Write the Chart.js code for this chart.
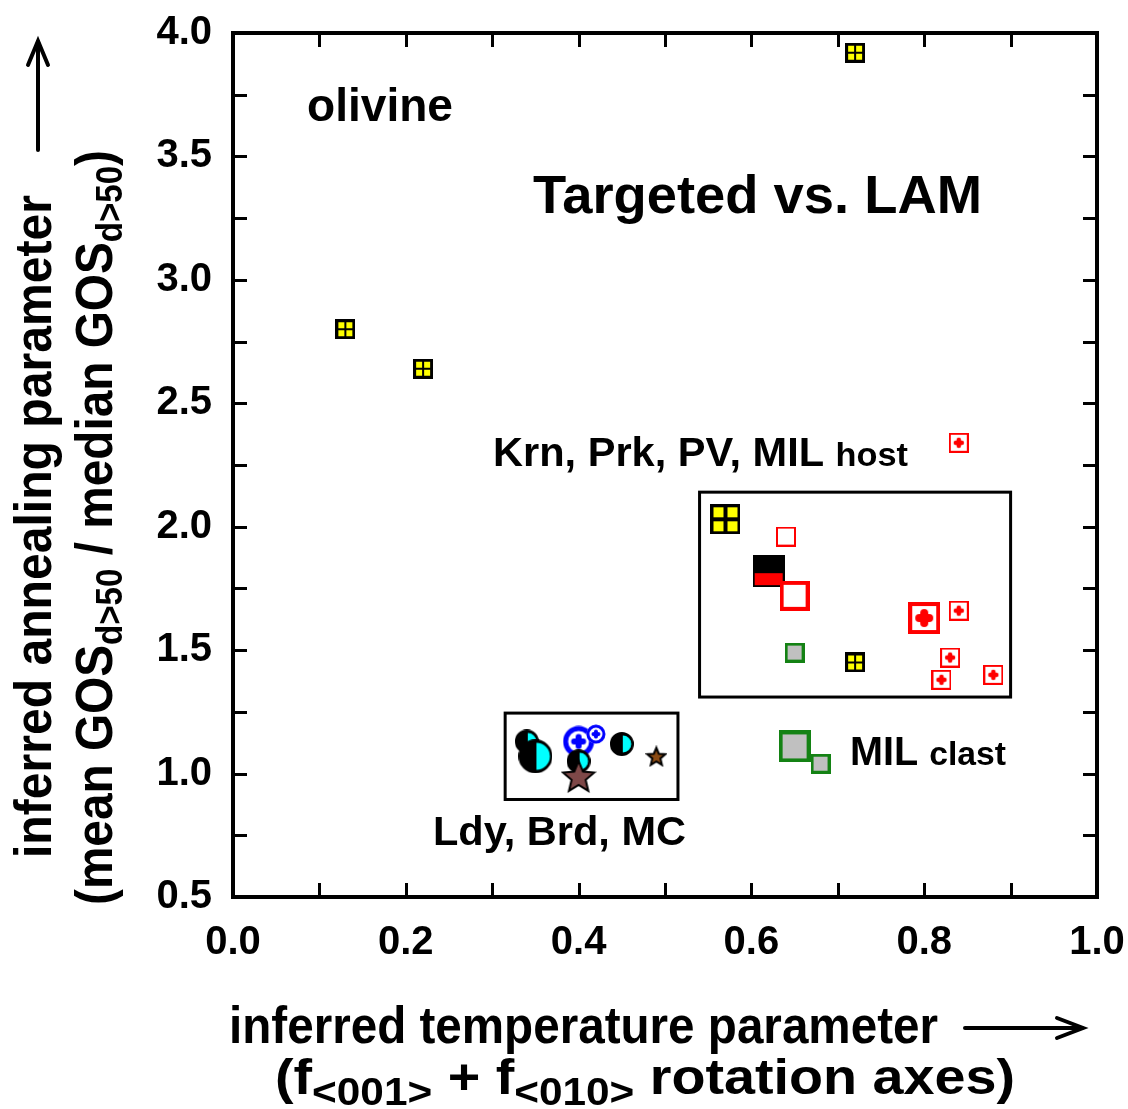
<!DOCTYPE html>
<html>
<head>
<meta charset="utf-8">
<title>olivine: targeted vs. LAM</title>
<script src="https://cdn.jsdelivr.net/npm/chart.js@4.4.1/dist/chart.umd.min.js"></script>
<style>
  html, body { margin: 0; padding: 0; background: #fff; }
  #wrap { position: relative; width: 1128px; height: 1109px; }
</style>
</head>
<body>
<div id="wrap"><canvas id="chart"></canvas></div>
<script>
// Axis ticks
const xLabelValues = [0.0, 0.2, 0.4, 0.6, 0.8, 1.0];
const xTickValues = [0.0, 0.1, 0.2, 0.3, 0.4, 0.5, 0.6, 0.7, 0.8, 0.9, 1.0];
const yLabelValues = [0.5, 1.0, 1.5, 2.0, 2.5, 3.0, 3.5, 4.0];
const yTickValues = [0.5, 0.75, 1.0, 1.25, 1.5, 1.75, 2.0, 2.25, 2.5, 2.75, 3.0, 3.25, 3.5, 3.75, 4.0];

// Krn, Prk, PV, MIL host samples
const yellowSmallX = [0.13, 0.22, 0.72, 0.72];
const yellowSmallY = [2.80, 2.64, 3.92, 1.45];
const yellowLargeX = [0.57];
const yellowLargeY = [2.03];
const redPlusSmallX = [0.84, 0.84, 0.83, 0.82, 0.88];
const redPlusSmallY = [2.34, 1.66, 1.47, 1.38, 1.40];
const redPlusLargeX = [0.80];
const redPlusLargeY = [1.63];
const redOpenSmallX = [0.64];
const redOpenSmallY = [1.96];
const redOpenLargeX = [0.65];
const redOpenLargeY = [1.72];
const blackRedX = [0.62];
const blackRedY = [1.82];

// MIL clast
const greySmallX = [0.65, 0.68];
const greySmallY = [1.49, 1.04];
const greyLargeX = [0.65];
const greyLargeY = [1.11];

// Ldy, Brd, MC
const halfBackX = [0.34];
const halfBackY = [1.13];
const halfLargeX = [0.35];
const halfLargeY = [1.07];
const ringLargeX = [0.40];
const ringLargeY = [1.13];
const ringSmallX = [0.42];
const ringSmallY = [1.16];
const halfFrontX = [0.45, 0.40];
const halfFrontY = [1.12, 1.05];
const starLargeX = [0.40];
const starLargeY = [0.99];
const starSmallX = [0.49];
const starSmallY = [1.07];

// Group boxes (data units)
const hostBoxX = [0.54, 0.90];
const hostBoxY = [1.31, 2.14];
const lowBoxX = [0.315, 0.515];
const lowBoxY = [0.895, 1.245];

const FONT = '"Liberation Sans", Arial, sans-serif';

// ---- marker images ----
function marker(s, draw) {
    const c = document.createElement('canvas');
    c.width = s;
    c.height = s;
    draw(c.getContext('2d'), s);
    return c;
}

function gridSquare(s, gap) {
    return marker(s, g => {
        g.fillStyle = '#000';
        g.fillRect(0, 0, s, s);
        const b = 3;
        const cell = (s - 2 * b - gap) / 2;
        g.fillStyle = '#ffff00';
        [b, b + cell + gap].forEach(cx => {
            [b, b + cell + gap].forEach(cy => g.fillRect(cx, cy, cell, cell));
        });
    });
}

function plusSquare(s, lw, arm, thick) {
    return marker(s, g => {
        g.fillStyle = '#fff';
        g.fillRect(0, 0, s, s);
        g.strokeStyle = '#ff0000';
        g.lineWidth = lw;
        g.strokeRect(lw / 2, lw / 2, s - lw, s - lw);
        const c = s / 2;
        g.lineCap = 'round';
        g.lineWidth = thick;
        g.beginPath();
        g.moveTo(c - arm, c); g.lineTo(c + arm, c);
        g.moveTo(c, c - arm); g.lineTo(c, c + arm);
        g.stroke();
    });
}

function openSquare(s, lw) {
    return marker(s, g => {
        g.fillStyle = '#fff';
        g.fillRect(0, 0, s, s);
        g.strokeStyle = '#ff0000';
        g.lineWidth = lw;
        g.strokeRect(lw / 2, lw / 2, s - lw, s - lw);
    });
}

function halfSquare(s) {
    return marker(s, g => {
        g.fillStyle = '#000';
        g.fillRect(0, 0, s, s);
        g.fillStyle = '#ff0000';
        g.fillRect(2, Math.round(s * 0.57), s - 4, s - 2 - Math.round(s * 0.57));
    });
}

function greySquare(s, lw) {
    return marker(s, g => {
        g.fillStyle = '#c0c0c0';
        g.fillRect(0, 0, s, s);
        g.strokeStyle = '#148214';
        g.lineWidth = lw;
        g.strokeRect(lw / 2, lw / 2, s - lw, s - lw);
    });
}

function halfCircle(d) {
    return marker(d, g => {
        const c = d / 2, r = d / 2 - 1;
        g.fillStyle = '#000';
        g.beginPath(); g.arc(c, c, r, 0, Math.PI * 2); g.fill();
        g.fillStyle = '#00ffff';
        g.beginPath(); g.arc(c + 1, c, r - 2.5, -Math.PI / 2, Math.PI / 2); g.closePath(); g.fill();
        g.strokeStyle = '#000';
        g.lineWidth = 2;
        g.beginPath(); g.arc(c, c, r, 0, Math.PI * 2); g.stroke();
    });
}

function ringPlus(d, t, arm, thick) {
    return marker(d, g => {
        const c = d / 2;
        g.fillStyle = '#fff';
        g.beginPath(); g.arc(c, c, c - 0.5, 0, Math.PI * 2); g.fill();
        g.strokeStyle = '#0000ff';
        g.lineWidth = t;
        g.beginPath(); g.arc(c, c, c - t / 2 - 0.5, 0, Math.PI * 2); g.stroke();
        g.lineCap = 'round';
        g.lineWidth = thick;
        g.beginPath();
        g.moveTo(c - arm, c); g.lineTo(c + arm, c);
        g.moveTo(c, c - arm); g.lineTo(c, c + arm);
        g.stroke();
    });
}

function star(d, fill) {
    return marker(d, g => {
        const R = d / 2 - 1.5, r = R * 0.45;
        const cx = d / 2, cy = d / 2 + R * 0.095;
        g.beginPath();
        for (let i = 0; i < 10; i++) {
            const a = -Math.PI / 2 + i * Math.PI / 5;
            const rr = i % 2 ? r : R;
            g.lineTo(cx + rr * Math.cos(a), cy + rr * Math.sin(a));
        }
        g.closePath();
        g.fillStyle = fill;
        g.fill();
        g.strokeStyle = '#000';
        g.lineWidth = 2;
        g.lineJoin = 'miter';
        g.stroke();
    });
}

const M = {
    gridSmall: gridSquare(20, 2),
    gridLarge: gridSquare(30, 4),
    plusSmall: plusSquare(20, 2, 3, 4.5),
    plusLarge: plusSquare(32, 4, 5, 8),
    openSmall: openSquare(20, 2),
    openLarge: openSquare(30, 4),
    blackRed: halfSquare(32),
    greySmall: greySquare(20, 3),
    greyLarge: greySquare(32, 4),
    halfSmall: halfCircle(24),
    halfLarge: halfCircle(34),
    ringSmall: ringPlus(20, 3, 2.5, 4),
    ringLarge: ringPlus(32, 5, 4.5, 6),
    starSmall: star(22, '#8b4a12'),
    starLarge: star(36, '#7e4848'),
};

function series(xs, ys, style) {
    return {
        data: xs.map((x, i) => ({ x: x, y: ys[i] })),
        pointStyle: style,
        pointRadius: style.width / 2,
        clip: false
    };
}

// listed bottom to top
const layers = [
    series(yellowSmallX, yellowSmallY, M.gridSmall),
    series(yellowLargeX, yellowLargeY, M.gridLarge),
    series(redPlusSmallX, redPlusSmallY, M.plusSmall),
    series(redPlusLargeX, redPlusLargeY, M.plusLarge),
    series(redOpenSmallX, redOpenSmallY, M.openSmall),
    series(blackRedX, blackRedY, M.blackRed),
    series(redOpenLargeX, redOpenLargeY, M.openLarge),
    series(greyLargeX, greyLargeY, M.greyLarge),
    series(greySmallX, greySmallY, M.greySmall),
    series(halfBackX, halfBackY, M.halfSmall),
    series(halfLargeX, halfLargeY, M.halfLarge),
    series(ringLargeX, ringLargeY, M.ringLarge),
    series(ringSmallX, ringSmallY, M.ringSmall),
    series(halfFrontX, halfFrontY, M.halfSmall),
    series(starLargeX, starLargeY, M.starLarge),
    series(starSmallX, starSmallY, M.starSmall),
];
layers.forEach((ds, i) => { ds.order = layers.length - i; });

// ---- text helpers ----
// parts: [text, size, dy]; squeezed horizontally to the given width
function drawRich(ctx, parts, x, y, width) {
    let natural = 0;
    parts.forEach(p => {
        ctx.font = 'bold ' + p[1] + 'px ' + FONT;
        natural += ctx.measureText(p[0]).width;
    });
    ctx.save();
    ctx.translate(x, y);
    ctx.scale(width / natural, 1);
    ctx.fillStyle = '#000';
    ctx.textAlign = 'left';
    ctx.textBaseline = 'alphabetic';
    let cx = 0;
    parts.forEach(p => {
        ctx.font = 'bold ' + p[1] + 'px ' + FONT;
        ctx.fillText(p[0], cx, p[2] || 0);
        cx += ctx.measureText(p[0]).width;
    });
    ctx.restore();
}

function drawRichUp(ctx, parts, x, y, width) {
    ctx.save();
    ctx.translate(x, y);
    ctx.rotate(-Math.PI / 2);
    drawRich(ctx, parts, 0, 0, width);
    ctx.restore();
}

function polyline(ctx, pts) {
    ctx.beginPath();
    pts.forEach((p, i) => i ? ctx.lineTo(p[0], p[1]) : ctx.moveTo(p[0], p[1]));
    ctx.stroke();
}

// frame, inward ticks and group boxes
const framePlugin = {
    id: 'frame',
    beforeDatasetsDraw(chart) {
        const ctx = chart.ctx;
        const a = chart.chartArea;
        const xs = chart.scales.x, ys = chart.scales.y;
        ctx.save();
        ctx.strokeStyle = '#000';
        ctx.lineCap = 'butt';

        ctx.lineWidth = 3;
        const tl = 14;
        xTickValues.forEach(v => {
            const px = Math.round(xs.getPixelForValue(v)) + 0.5;
            polyline(ctx, [[px, a.bottom], [px, a.bottom - tl]]);
            polyline(ctx, [[px, a.top], [px, a.top + tl]]);
        });
        yTickValues.forEach(v => {
            const py = Math.round(ys.getPixelForValue(v)) + 0.5;
            polyline(ctx, [[a.left, py], [a.left + tl, py]]);
            polyline(ctx, [[a.right, py], [a.right - tl, py]]);
        });

        ctx.lineWidth = 4;
        ctx.strokeRect(a.left, a.top, a.right - a.left, a.bottom - a.top);

        ctx.lineWidth = 3;
        [[hostBoxX, hostBoxY], [lowBoxX, lowBoxY]].forEach(b => {
            const x0 = xs.getPixelForValue(b[0][0]), x1 = xs.getPixelForValue(b[0][1]);
            const y0 = ys.getPixelForValue(b[1][1]), y1 = ys.getPixelForValue(b[1][0]);
            ctx.strokeRect(x0, y0, x1 - x0, y1 - y0);
        });
        ctx.restore();
    },
    afterDraw(chart) {
        const ctx = chart.ctx;
        ctx.save();

        // in-plot labels
        drawRich(ctx, [['olivine', 46]], 307, 121, 146);
        drawRich(ctx, [['Targeted vs. LAM', 54]], 533, 213, 449);
        drawRich(ctx, [['Krn, Prk, PV, MIL ', 40], ['host', 33]], 493, 466, 415);
        drawRich(ctx, [['MIL ', 40], ['clast', 34]], 850, 765, 156);
        drawRich(ctx, [['Ldy, Brd, MC', 40]], 433, 845, 253);

        // axis titles
        drawRich(ctx, [['inferred temperature parameter', 52]], 229, 1043, 709);
        drawRich(ctx, [['(f', 50], ['<001>', 38, 11], [' + f', 50], ['<010>', 38, 11], [' rotation axes)', 50]], 275, 1094, 740);
        drawRichUp(ctx, [['inferred annealing parameter', 52]], 51, 858, 663);
        drawRichUp(ctx, [['(mean GOS', 52], ['d>50', 36, 10], [' / median GOS', 52], ['d>50', 36, 10], [')', 52]], 112, 905, 755);

        // direction arrows
        ctx.strokeStyle = '#000';
        ctx.lineWidth = 4;
        ctx.lineCap = 'round';
        ctx.lineJoin = 'miter';
        polyline(ctx, [[38, 150], [38, 42]]);
        polyline(ctx, [[28, 65], [38, 41], [48, 65]]);
        polyline(ctx, [[965, 1028], [1082, 1028]]);
        polyline(ctx, [[1057, 1018], [1083, 1028], [1057, 1038]]);

        ctx.restore();
    }
};

const tickFont = { family: FONT, size: 40, weight: 'bold' };

// keep the plot box fixed: no extra room for overhanging tick labels
function noLabelPadding(s) {
    s.paddingTop = 0;
    s.paddingBottom = 0;
    s.paddingLeft = 0;
    s.paddingRight = 0;
}

new Chart(document.getElementById('chart').getContext('2d'), {
    type: 'scatter',
    data: { datasets: layers },
    options: {
        responsive: true,
        maintainAspectRatio: false,
        animation: false,
        events: [],
        layout: { padding: { top: 33, right: 31, bottom: 0, left: 0 } },
        plugins: {
            legend: { display: false },
            tooltip: { enabled: false }
        },
        scales: {
            x: {
                type: 'linear',
                min: 0,
                max: 1,
                grid: { display: false, drawTicks: false },
                border: { display: false },
                ticks: {
                    font: tickFont,
                    color: '#000',
                    padding: 22,
                    autoSkip: false,
                    maxRotation: 0,
                    callback: v => Number(v).toFixed(1)
                },
                afterBuildTicks: s => { s.ticks = xLabelValues.map(v => ({ value: v })); },
                afterFit: s => { s.height = 212; noLabelPadding(s); }
            },
            y: {
                type: 'linear',
                min: 0.5,
                max: 4,
                grid: { display: false, drawTicks: false },
                border: { display: false },
                ticks: {
                    font: tickFont,
                    color: '#000',
                    padding: 21,
                    autoSkip: false,
                    callback: v => Number(v).toFixed(1)
                },
                afterBuildTicks: s => { s.ticks = yLabelValues.map(v => ({ value: v })); },
                afterFit: s => { s.width = 233; noLabelPadding(s); }
            }
        }
    },
    plugins: [framePlugin]
});
</script>
</body>
</html>
